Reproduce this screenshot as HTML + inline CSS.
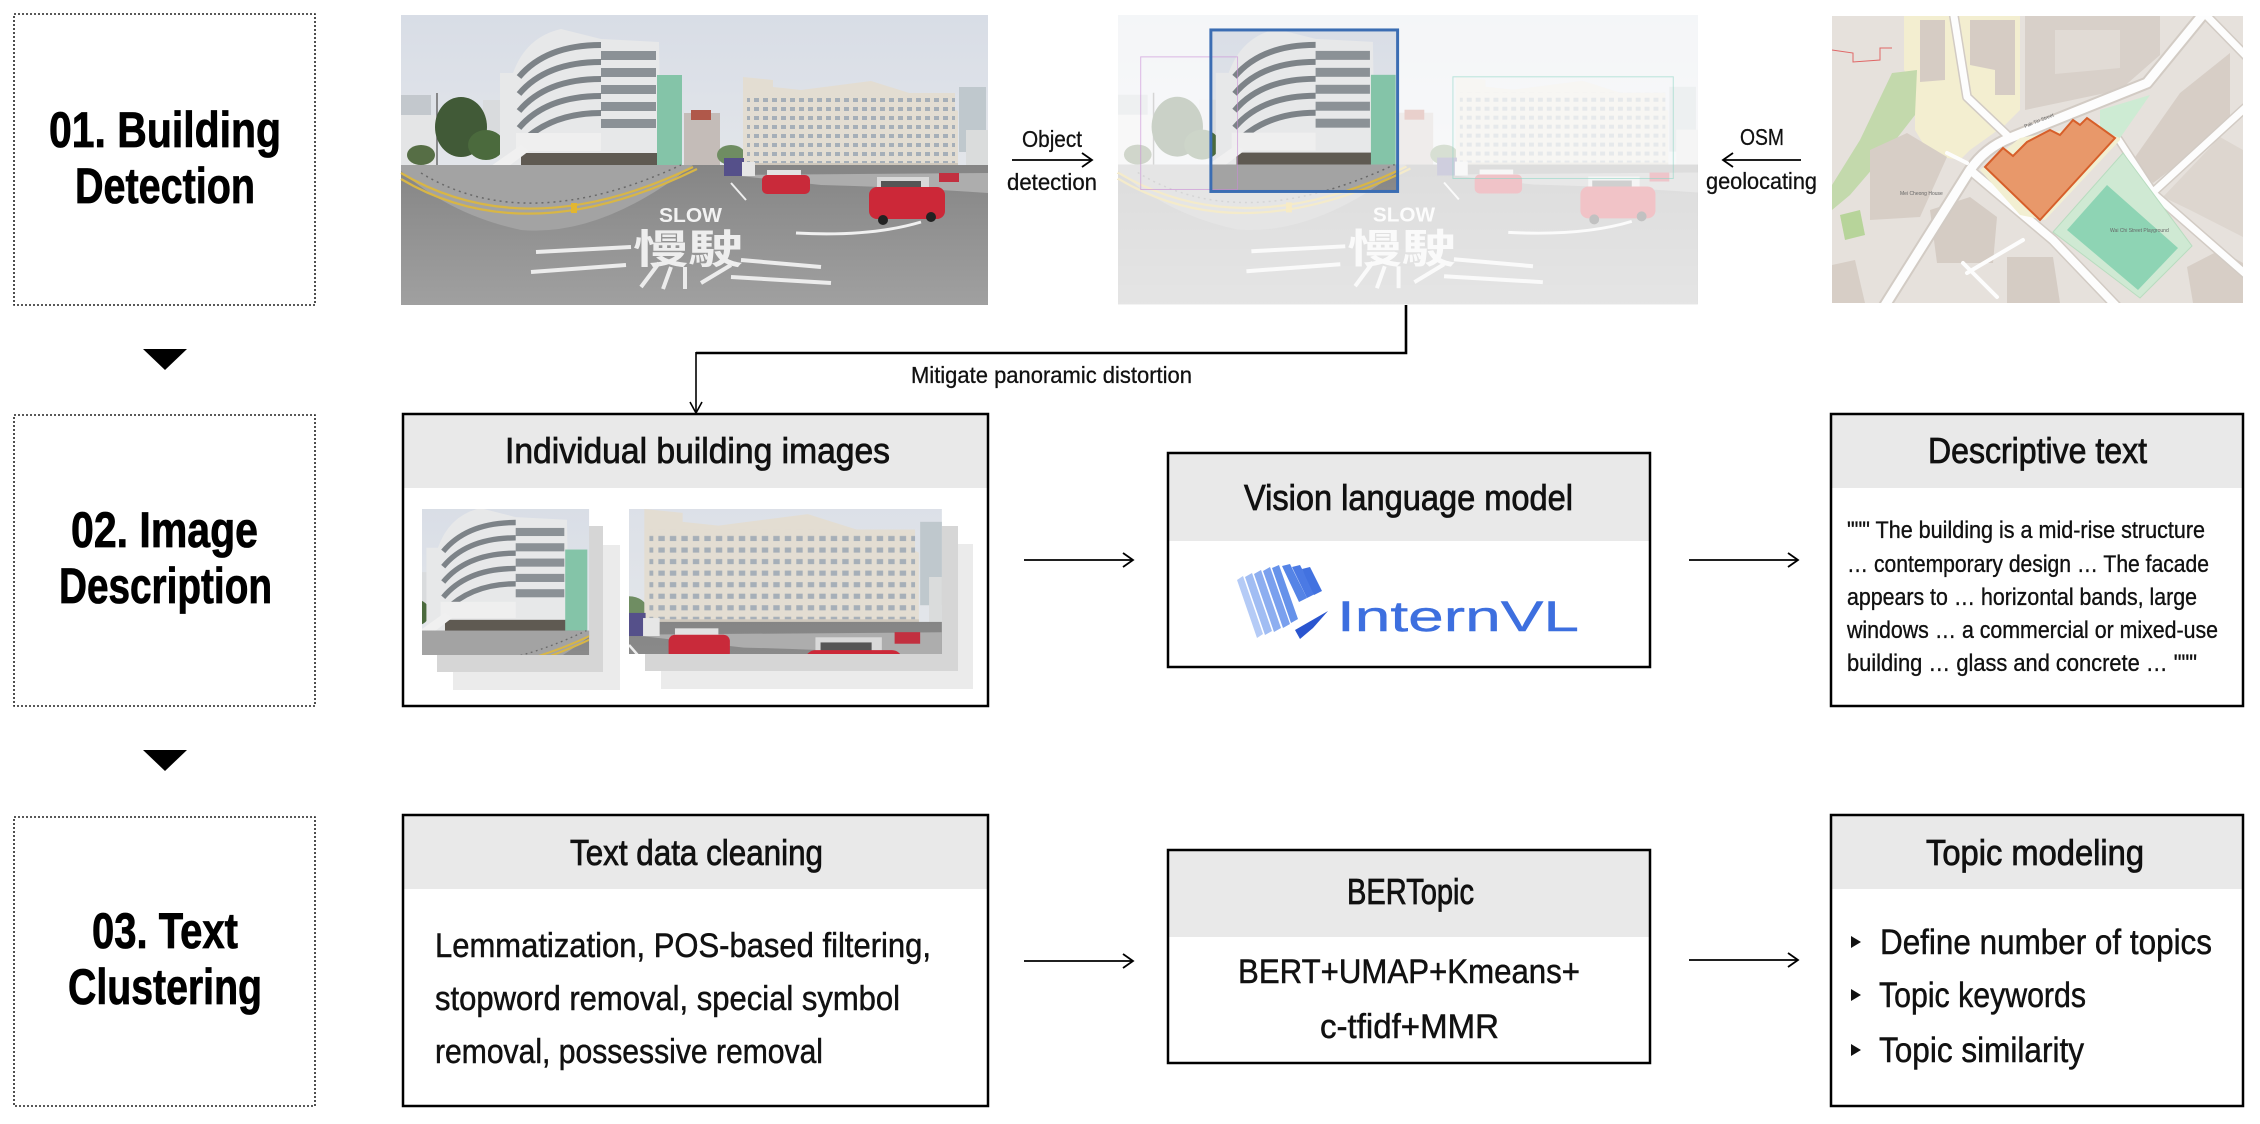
<!DOCTYPE html>
<html><head><meta charset="utf-8">
<style>
html,body{margin:0;padding:0;background:#fff;}
svg{display:block;}
text{font-family:"Liberation Sans","Noto Sans CJK TC",sans-serif;}
</style></head>
<body>
<svg width="2260" height="1124" viewBox="0 0 2260 1124" xmlns="http://www.w3.org/2000/svg">
<defs>
  <linearGradient id="skyG" x1="0" y1="0" x2="0" y2="1">
    <stop offset="0" stop-color="#d8dde6"/><stop offset="1" stop-color="#eceded"/>
  </linearGradient>
  <linearGradient id="roadG" x1="0" y1="0" x2="0" y2="1">
    <stop offset="0" stop-color="#858585"/><stop offset="1" stop-color="#a0a0a0"/>
  </linearGradient>
  <pattern id="win" width="9" height="9" patternUnits="userSpaceOnUse">
    <rect width="9" height="9" fill="#e3ddd2"/>
    <rect x="2" y="2" width="5" height="4" fill="#a6afb8"/>
  </pattern>
  <clipPath id="cropA"><rect x="94" y="15" width="189" height="162"/></clipPath>
  <clipPath id="cropB"><rect x="330" y="62" width="245" height="113"/></clipPath>
  <clipPath id="mapClip"><rect x="12" y="6" width="411" height="287"/></clipPath>
  <g id="pano">
    <rect width="587" height="290" fill="url(#skyG)"/>
    <rect x="0" y="80" width="30" height="70" fill="#c3c8cd"/>
    <rect x="0" y="100" width="36" height="50" fill="#e4e5e6"/>
    <rect x="82" y="85" width="18" height="50" fill="#d9dbdd"/>
    <line x1="36" y1="78" x2="36" y2="150" stroke="#6a6a6a" stroke-width="1.5"/>
    <ellipse cx="60" cy="112" rx="26" ry="30" fill="#415a37"/>
    <ellipse cx="85" cy="130" rx="18" ry="15" fill="#4b6a3d"/>
    <ellipse cx="20" cy="140" rx="14" ry="10" fill="#566e45"/>
    <path d="M99,58 L112,58 Q125,22 160,14 L200,24 L258,27 L260,150 L200,168 L150,172 L99,168 Z" fill="#e7e8e9"/>
    <g fill="none" stroke="#7d8388" stroke-width="6">
      <path d="M118,62 Q145,30 200,30"/>
      <path d="M118,79 Q145,47 200,47"/>
      <path d="M118,96 Q145,64 200,64"/>
      <path d="M118,113 Q145,81 200,81"/>
      <path d="M120,128 Q150,98 200,98"/>
    </g>
    <g fill="#8b9196">
      <rect x="200" y="36" width="55" height="9"/>
      <rect x="200" y="53" width="55" height="9"/>
      <rect x="200" y="70" width="55" height="9"/>
      <rect x="200" y="87" width="55" height="9"/>
      <rect x="200" y="104" width="55" height="9"/>
    </g>
    <rect x="115" y="118" width="85" height="18" fill="#efefef"/>
    <rect x="120" y="138" width="138" height="36" fill="#5f5a52"/>
    <polygon points="70,165 120,130 128,136 80,172" fill="#f0f0f0"/>
    <rect x="256" y="60" width="25" height="92" fill="#84c4a8"/>
    <rect x="283" y="98" width="36" height="52" fill="#c4bcb8"/>
    <rect x="290" y="95" width="20" height="10" fill="#b0584a"/>
    <ellipse cx="330" cy="140" rx="14" ry="10" fill="#6f8d62"/>
    <polygon points="342,62 372,65 372,72 400,75 470,66 540,88 557,96 557,162 342,162" fill="#e3ddd2"/>
    <rect x="346" y="78" width="208" height="70" fill="url(#win)"/>
    <rect x="342" y="148" width="215" height="16" fill="#cfc8bd"/>
    <rect x="558" y="72" width="27" height="65" fill="#bfc8cd"/>
    <rect x="565" y="115" width="22" height="47" fill="#dadcdc"/>
    <rect x="0" y="150" width="587" height="140" fill="url(#roadG)"/>
    <path d="M0,150 L292,150 Q200,222 120,215 Q50,200 0,156 Z" fill="#a3a3a3"/>
    <path d="M330,160 L587,158 L587,178 Q500,172 420,170 Z" fill="#adadad"/>
    <path d="M0,158 Q125,232 292,152" fill="none" stroke="#d8b646" stroke-width="2.2"/>
    <path d="M0,164 Q125,238 296,154" fill="none" stroke="#d8b646" stroke-width="2.2"/>
    <path d="M20,158 Q125,222 280,150" fill="none" stroke="#6a6a6a" stroke-width="1.5" stroke-dasharray="2,4"/>
    <text x="258" y="207" font-size="20" font-weight="bold" fill="#f2f2f2" textLength="63" lengthAdjust="spacingAndGlyphs">SLOW</text>
    <text x="232" y="248" font-size="40" font-weight="bold" fill="#eeeeee" textLength="110" lengthAdjust="spacingAndGlyphs" font-family="'Noto Sans CJK TC',sans-serif">慢駛</text>
    <g stroke="#ececec" stroke-width="4" fill="none">
      <line x1="135" y1="237" x2="230" y2="232"/>
      <line x1="130" y1="257" x2="225" y2="250"/>
      <line x1="240" y1="272" x2="258" y2="248"/>
      <line x1="262" y1="274" x2="270" y2="252"/>
      <line x1="284" y1="274" x2="284" y2="252"/>
      <line x1="300" y1="268" x2="330" y2="250"/>
      <line x1="330" y1="262" x2="430" y2="268"/>
      <line x1="340" y1="245" x2="420" y2="252"/>
    </g>
    <path d="M395,218 Q470,222 520,207" fill="none" stroke="#f0f0f0" stroke-width="3"/>
    <line x1="330" y1="168" x2="345" y2="185" stroke="#eee" stroke-width="2"/>
    <rect x="323" y="143" width="20" height="18" fill="#55508a"/>
    <rect x="341" y="147" width="13" height="14" fill="#e6e6e6"/>
    <rect x="366" y="155" width="34" height="9" fill="#e2e2e2"/>
    <rect x="361" y="160" width="48" height="19" rx="5" fill="#c92a3a"/>
    <rect x="476" y="162" width="52" height="16" fill="#d9d9d9"/>
    <rect x="480" y="166" width="40" height="9" fill="#555"/>
    <rect x="468" y="172" width="76" height="32" rx="8" fill="#cc2838"/>
    <circle cx="482" cy="205" r="5" fill="#222"/><circle cx="530" cy="202" r="5" fill="#222"/>
    <rect x="538" y="158" width="20" height="9" fill="#c23040"/>
    <rect x="170" y="188" width="6" height="10" fill="#e2b630"/>
  </g>
</defs>

<!-- ===== Left dashed stage boxes ===== -->
<g fill="none" stroke="#222" stroke-width="1.6" stroke-dasharray="2,2">
  <rect x="14" y="14" width="301" height="291"/>
  <rect x="14" y="415" width="301" height="291"/>
  <rect x="14" y="817" width="301" height="289"/>
</g>
<g font-weight="bold" font-size="50" fill="#000" stroke="#000" stroke-width="0.8">
  <text x="49" y="147" textLength="232" lengthAdjust="spacingAndGlyphs">01. Building</text>
  <text x="75" y="203" textLength="180" lengthAdjust="spacingAndGlyphs">Detection</text>
  <text x="71" y="547" textLength="187" lengthAdjust="spacingAndGlyphs">02. Image</text>
  <text x="59" y="603" textLength="213" lengthAdjust="spacingAndGlyphs">Description</text>
  <text x="92" y="948" textLength="146" lengthAdjust="spacingAndGlyphs">03. Text</text>
  <text x="68" y="1004" textLength="194" lengthAdjust="spacingAndGlyphs">Clustering</text>
</g>
<polygon points="143,349 187,349 165,370" fill="#000"/>
<polygon points="143,750 187,750 165,771" fill="#000"/>

<!-- ===== Row 1 ===== -->
<g transform="translate(401,15)"><use href="#pano"/></g>

<g transform="translate(1118,15) scale(0.988,0.997)">
  <use href="#pano"/>
  <rect width="587" height="290" fill="#fff" opacity="0.72"/>
  <g clip-path="url(#cropA)"><use href="#pano"/></g>
  <rect x="23" y="42" width="98" height="133" fill="none" stroke="#c98bd6" stroke-width="1" opacity="0.6"/>
  <rect x="339" y="62" width="223" height="102" fill="none" stroke="#8fd6c4" stroke-width="1" opacity="0.6"/>
  <rect x="94" y="15" width="189" height="162" fill="none" stroke="#3b6db3" stroke-width="3"/>
</g>

<g fill="#111" stroke="#111" stroke-width="0.3">
<text x="1022" y="147" font-size="23" textLength="60" lengthAdjust="spacingAndGlyphs">Object</text>
<text x="1007" y="190" font-size="23" textLength="90" lengthAdjust="spacingAndGlyphs">detection</text>
<text x="1740" y="145" font-size="23" textLength="44" lengthAdjust="spacingAndGlyphs">OSM</text>
<text x="1706" y="189" font-size="23" textLength="111" lengthAdjust="spacingAndGlyphs">geolocating</text>
<text x="911" y="383" font-size="23" textLength="281" lengthAdjust="spacingAndGlyphs">Mitigate panoramic distortion</text>
</g>
<line x1="1012" y1="160" x2="1092" y2="160" stroke="#000" stroke-width="1.8"/>
<polyline points="1082,153 1092,160 1082,167" fill="none" stroke="#000" stroke-width="1.8"/>
<line x1="1723" y1="160" x2="1801" y2="160" stroke="#000" stroke-width="1.8"/>
<polyline points="1733,153 1723,160 1733,167" fill="none" stroke="#000" stroke-width="1.8"/>

<!-- Map -->
<g transform="translate(1820,10)" clip-path="url(#mapClip)">
  <rect x="12" y="6" width="411" height="287" fill="#e6e1dc"/>
  <polygon points="84,6 200,6 200,100 185,115 150,140 140,150 110,145 95,120 95,75 84,60" fill="#f3eed0"/>
  <polygon points="100,10 125,10 125,70 100,72" fill="#d6ccc4"/>
  <polygon points="150,10 195,10 195,85 175,85 175,60 150,55" fill="#d6ccc4"/>
  <polygon points="205,6 340,6 340,45 300,80 205,100" fill="#d8d0c9"/>
  <polygon points="235,20 300,20 300,58 235,64" fill="#e1dbd5"/>
  <polygon points="72,63 97,60 95,105 60,150 30,185 12,200 12,175 40,130" fill="#c3d9ac"/>
  <polygon points="20,205 40,200 45,225 25,230" fill="#b7d49a"/>
  <polygon points="50,140 87,123 127,147 100,207 50,210" fill="#d7cec6"/>
  <polygon points="12,255 35,250 45,293 12,293" fill="#d7cec6"/>
  <polygon points="110,200 150,187 177,207 173,253 117,253" fill="#d5ccc4"/>
  <polygon points="187,247 233,247 240,293 187,293" fill="#d5ccc4"/>
  <polygon points="313,150 360,83 410,43 410,107 360,153 333,173" fill="#d7cec6"/>
  <polygon points="343,187 400,127 423,140 423,227 370,200" fill="#ddd6cf"/>
  <polygon points="367,257 400,240 423,253 423,293 373,293" fill="#d7cec6"/>
  <g fill="none" stroke="#d2cbc4" stroke-linecap="round" stroke-linejoin="round">
    <path d="M62,300 L150,160 Q165,138 190,128 L327,73 L385,2" stroke-width="13"/>
    <path d="M133,0 L147,87 L187,125" stroke-width="10"/>
    <path d="M150,160 L233,230 L300,300" stroke-width="11"/>
    <path d="M383,2 L430,50" stroke-width="10"/>
    <path d="M330,185 L425,98" stroke-width="10"/>
    <path d="M335,185 L430,268" stroke-width="10"/>
    <path d="M297,127 L333,182" stroke-width="9"/>
  </g>
  <g fill="none" stroke="#fdfdfd" stroke-linecap="round" stroke-linejoin="round">
    <path d="M62,300 L150,160 Q165,138 190,128 L327,73 L385,2" stroke-width="9"/>
    <path d="M133,0 L147,87 L187,125" stroke-width="7"/>
    <path d="M150,160 L233,230 L300,300" stroke-width="8"/>
    <path d="M383,2 L430,50" stroke-width="7"/>
    <path d="M330,185 L425,98" stroke-width="7"/>
    <path d="M335,185 L430,268" stroke-width="7"/>
    <path d="M297,127 L333,182" stroke-width="6"/>
    <path d="M147,263 L203,230" stroke-width="4"/>
    <path d="M143,253 L177,287" stroke-width="4"/>
    <path d="M127,143 L147,153" stroke-width="4"/>
  </g>
  <polyline points="12,40 33,43 33,52 60,50 60,38 72,38" fill="none" stroke="#e06666" stroke-width="1"/>
  <polygon points="160,160 200,128 300,110 300,130 225,210 200,205" fill="#f2efd2"/>
  <polygon points="280,100 330,85 300,128 280,120" fill="#cdebd3"/>
  <polygon points="165,157 183,138 193,146 207,132 230,120 240,125 253,110 260,115 267,108 295,128 220,210" fill="#e8986a" stroke="#d75f2a" stroke-width="2"/>
  <polygon points="233,222 303,143 372,236 320,288" fill="#cfe9d3" stroke="#b8dcbf" stroke-width="1"/>
  <polygon points="247,220 287,175 358,238 318,280" fill="#8ed4b4"/>
  <g font-size="5" fill="#666">
    <text x="290" y="222">Wai Chi Street Playground</text>
    <text x="80" y="185">Mei Cheong House</text>
    <text transform="translate(205,118) rotate(-22)">Pak Tin Street</text>
  </g>
</g>

<!-- connector -->
<polyline points="1406,305 1406,353 696,353" fill="none" stroke="#000" stroke-width="2.6"/>
<line x1="696" y1="352" x2="696" y2="413" stroke="#000" stroke-width="1.6"/>
<polyline points="690,402 696,413 702,402" fill="none" stroke="#000" stroke-width="1.6"/>

<!-- ===== Row 2 ===== -->
<rect x="403" y="414" width="585" height="292" fill="#fff"/>
<rect x="403" y="414" width="585" height="74" fill="#e9e9e9"/>
<rect x="403" y="414" width="585" height="292" fill="none" stroke="#000" stroke-width="2.5"/>

<rect x="453" y="545" width="167" height="145" fill="#ebebeb"/>
<rect x="437" y="526" width="166" height="146" fill="#d6d6d6"/>
<g transform="translate(422,509) scale(0.884,0.901) translate(-94,-15)">
  <g clip-path="url(#cropA)"><use href="#pano"/></g>
</g>
<rect x="661" y="544" width="312" height="145" fill="#ebebeb"/>
<rect x="645" y="526" width="313" height="145" fill="#d6d6d6"/>
<g transform="translate(629,509) scale(1.277,1.283) translate(-330,-62)">
  <g clip-path="url(#cropB)"><use href="#pano"/></g>
</g>

<line x1="1024" y1="560" x2="1133" y2="560" stroke="#000" stroke-width="1.8"/>
<polyline points="1123,553 1133,560 1123,567" fill="none" stroke="#000" stroke-width="1.8"/>

<rect x="1168" y="453" width="482" height="214" fill="#fff"/>
<rect x="1168" y="453" width="482" height="88" fill="#e9e9e9"/>
<rect x="1168" y="453" width="482" height="214" fill="none" stroke="#000" stroke-width="2.5"/>
<g>
  <polygon points="1237,580 1243,576 1263,634 1257,638" fill="#b5cbf6"/>
  <polygon points="1245,577 1252,573 1272,631 1265,635" fill="#a1bdf3"/>
  <polygon points="1254,574 1261,570 1281,628 1274,632" fill="#8daef0"/>
  <polygon points="1263,571 1270,567 1290,624 1283,628" fill="#7aa0ee"/>
  <polygon points="1272,568 1279,565 1298,619 1291,623" fill="#6692ea"/>
  <polygon points="1282,566 1290,564 1307,598 1299,602" fill="#5584e6"/>
  <polygon points="1292,567 1300,565 1315,594 1307,598" fill="#4b7ae4"/>
  <polygon points="1302,569 1310,567 1322,591 1314,595" fill="#4272e0"/>
  <polygon points="1295,630 1328,611 1313,628 1300,639" fill="#2a55cf"/>
</g>
<text x="1337" y="631" font-size="43" fill="#3d6fdf" stroke="#3d6fdf" stroke-width="0.4" textLength="242" lengthAdjust="spacingAndGlyphs">InternVL</text>

<line x1="1689" y1="560" x2="1798" y2="560" stroke="#000" stroke-width="1.8"/>
<polyline points="1788,553 1798,560 1788,567" fill="none" stroke="#000" stroke-width="1.8"/>

<rect x="1831" y="414" width="412" height="292" fill="#fff"/>
<rect x="1831" y="414" width="412" height="74" fill="#e9e9e9"/>
<rect x="1831" y="414" width="412" height="292" fill="none" stroke="#000" stroke-width="2.5"/>

<!-- ===== Row 3 ===== -->
<rect x="403" y="815" width="585" height="291" fill="#fff"/>
<rect x="403" y="815" width="585" height="74" fill="#e9e9e9"/>
<rect x="403" y="815" width="585" height="291" fill="none" stroke="#000" stroke-width="2.5"/>

<line x1="1024" y1="961" x2="1133" y2="961" stroke="#000" stroke-width="1.8"/>
<polyline points="1123,954 1133,961 1123,968" fill="none" stroke="#000" stroke-width="1.8"/>

<rect x="1168" y="850" width="482" height="213" fill="#fff"/>
<rect x="1168" y="850" width="482" height="87" fill="#e9e9e9"/>
<rect x="1168" y="850" width="482" height="213" fill="none" stroke="#000" stroke-width="2.5"/>

<line x1="1689" y1="960" x2="1798" y2="960" stroke="#000" stroke-width="1.8"/>
<polyline points="1788,953 1798,960 1788,967" fill="none" stroke="#000" stroke-width="1.8"/>

<rect x="1831" y="815" width="412" height="291" fill="#fff"/>
<rect x="1831" y="815" width="412" height="74" fill="#e9e9e9"/>
<rect x="1831" y="815" width="412" height="291" fill="none" stroke="#000" stroke-width="2.5"/>
<g fill="#111">
  <polygon points="1851,936 1861,942 1851,948"/>
  <polygon points="1851,989 1861,995 1851,1001"/>
  <polygon points="1851,1044 1861,1050 1851,1056"/>
</g>

<!-- titles -->
<g font-size="36" fill="#111" stroke="#111" stroke-width="0.8">
  <text x="505" y="463" textLength="385" lengthAdjust="spacingAndGlyphs">Individual building images</text>
  <text x="1244" y="510" textLength="329" lengthAdjust="spacingAndGlyphs">Vision language model</text>
  <text x="1928" y="463" textLength="219" lengthAdjust="spacingAndGlyphs">Descriptive text</text>
  <text x="570" y="865" textLength="253" lengthAdjust="spacingAndGlyphs">Text data cleaning</text>
  <text x="1347" y="904" textLength="127" lengthAdjust="spacingAndGlyphs">BERTopic</text>
  <text x="1926" y="865" textLength="218" lengthAdjust="spacingAndGlyphs">Topic modeling</text>
</g>

<!-- body text -->
<g font-size="24" fill="#111" stroke="#111" stroke-width="0.35">
  <text x="1847" y="538" textLength="358" lengthAdjust="spacingAndGlyphs">""" The building is a mid-rise structure</text>
  <text x="1847" y="572" textLength="362" lengthAdjust="spacingAndGlyphs">… contemporary design … The facade</text>
  <text x="1847" y="605" textLength="350" lengthAdjust="spacingAndGlyphs">appears to … horizontal bands, large</text>
  <text x="1847" y="638" textLength="371" lengthAdjust="spacingAndGlyphs">windows … a commercial or mixed-use</text>
  <text x="1847" y="671" textLength="350" lengthAdjust="spacingAndGlyphs">building … glass and concrete … """</text>
</g>
<g font-size="34" fill="#111" stroke="#111" stroke-width="0.5">
  <text x="435" y="957" textLength="496" lengthAdjust="spacingAndGlyphs">Lemmatization, POS-based filtering,</text>
  <text x="435" y="1010" textLength="465" lengthAdjust="spacingAndGlyphs">stopword removal, special symbol</text>
  <text x="435" y="1063" textLength="388" lengthAdjust="spacingAndGlyphs">removal, possessive removal</text>
  <text x="1238" y="983" textLength="342" lengthAdjust="spacingAndGlyphs">BERT+UMAP+Kmeans+</text>
  <text x="1320" y="1038" textLength="179" lengthAdjust="spacingAndGlyphs">c-tfidf+MMR</text>
</g>
<g font-size="35" fill="#111" stroke="#111" stroke-width="0.5">
  <text x="1880" y="954" textLength="332" lengthAdjust="spacingAndGlyphs">Define number of topics</text>
  <text x="1879" y="1007" textLength="207" lengthAdjust="spacingAndGlyphs">Topic keywords</text>
  <text x="1879" y="1062" textLength="205" lengthAdjust="spacingAndGlyphs">Topic similarity</text>
</g>
</svg>
</body></html>
